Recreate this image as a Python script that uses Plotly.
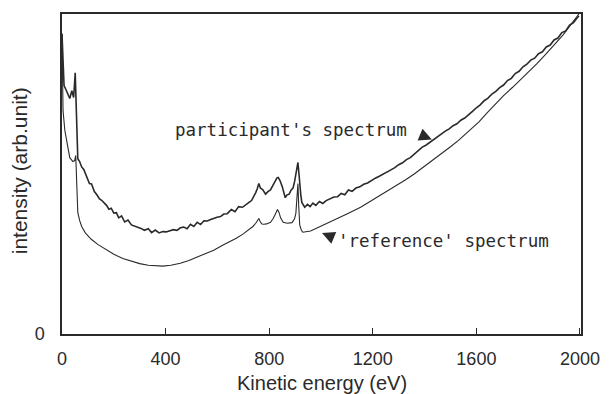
import plotly.graph_objects as go

# ---- data ----
part_energy = [0, 4, 8, 15, 23, 30, 38, 45, 51, 55, 59, 61, 68, 76, 84, 91, 99, 106, 114, 125,
               134, 144, 153, 163, 172, 181, 190, 200, 210, 219, 230, 242, 255, 268, 280, 292,
               305, 318, 333, 346, 360, 375, 389, 402, 416, 430, 444, 457, 470, 483, 496, 509,
               522, 535, 548, 561, 574, 586, 599, 612, 625, 638, 654, 668, 682, 697, 711, 722,
               732, 741, 748, 754, 760, 766, 775, 786, 795, 805, 815, 824, 830, 835, 842, 850,
               856, 862, 868, 877, 885, 892, 898, 903, 907, 911, 915, 918, 922, 926, 937, 948,
               958, 969, 980, 994, 1007, 1020, 1035, 1050, 1064, 1078, 1092, 1106, 1120, 1135,
               1150, 1165, 1180, 1195, 1210, 1225, 1240, 1255, 1270, 1285, 1300, 1315, 1330,
               1345, 1360, 1375, 1391, 1405, 1420, 1435, 1450, 1465, 1480, 1495, 1510, 1525,
               1540, 1555, 1570, 1585, 1600, 1615, 1630, 1645, 1660, 1675, 1690, 1705, 1720,
               1735, 1750, 1765, 1780, 1795, 1810, 1825, 1840, 1855, 1870, 1885, 1900, 1915,
               1930, 1945, 1960, 1975, 1988, 1996]
part_intensity = [93.8, 85.4, 77.6, 76.4, 75.0, 73.6, 76.0, 73.9, 81.6, 72.9, 60.4, 54.8, 53.9,
                  52.2, 51.4, 50.1, 48.8, 47.0, 46.9, 44.5, 43.6, 42.3, 41.8, 40.9, 40.2, 39.0,
                  39.3, 37.8, 37.9, 36.3, 36.9, 35.0, 35.6, 34.1, 33.8, 33.5, 33.0, 32.4, 32.9,
                  31.7, 32.5, 31.6, 32.0, 31.9, 32.2, 32.6, 32.4, 33.2, 33.4, 32.9, 34.3, 33.6,
                  34.9, 34.2, 35.4, 35.3, 35.8, 36.2, 36.5, 36.7, 37.5, 37.6, 38.9, 38.2, 39.8,
                  39.6, 40.6, 41.1, 41.7, 43.0, 44.2, 45.4, 47.0, 45.6, 45.1, 43.7, 44.5, 45.0,
                  46.7, 47.8, 48.8, 48.9, 47.9, 46.2, 44.6, 42.6, 43.4, 43.7, 45.0, 45.6, 47.6,
                  50.5, 52.5, 53.6, 50.0, 46.4, 43.5, 41.1, 39.6, 40.5, 39.8, 40.9, 40.2, 41.4,
                  40.8, 41.7, 42.2, 42.8, 42.9, 43.9, 43.5, 45.0, 44.6, 45.6, 46.0, 46.8, 47.2,
                  48.0, 48.7, 49.3, 49.9, 50.6, 51.3, 52.0, 52.9, 53.5, 54.5, 55.1, 56.2, 57.1,
                  58.4, 59.0, 59.9, 60.8, 61.7, 62.4, 63.4, 64.1, 65.1, 65.7, 66.8, 67.5, 68.7,
                  69.6, 70.7, 71.6, 72.9, 73.7, 75.0, 75.8, 77.0, 77.8, 79.2, 79.9, 81.4, 82.1,
                  83.5, 84.3, 85.6, 86.2, 87.6, 88.2, 89.7, 90.3, 91.9, 92.5, 94.2, 94.7, 96.5,
                  97.3, 98.7, 99.4, 100.0]

ref_energy = [0, 4, 11, 19, 30, 42, 49, 53, 57, 61, 68, 76, 90, 113, 138, 163, 200, 235, 268,
              300, 333, 360, 389, 420, 457, 490, 522, 555, 586, 620, 650, 673, 700, 720, 737,
              748, 754, 760, 766, 772, 779, 790, 805, 815, 824, 832, 838, 844, 854, 870, 888,
              898, 903, 907, 911, 914, 918, 924, 930, 960, 987, 1020, 1050, 1100, 1153, 1202,
              1250, 1278, 1327, 1360, 1402, 1455, 1500, 1531, 1580, 1610, 1644, 1675, 1705,
              1740, 1769, 1800, 1833, 1870, 1909, 1935, 1958, 1980, 1996]
ref_intensity = [93.8, 69.8, 63.6, 60.4, 55.1, 53.9, 54.2, 55.8, 44.9, 38.0, 35.5, 33.6, 31.6,
                 29.6, 28.0, 26.8, 24.9, 23.6, 22.7, 22.0, 21.5, 21.3, 21.2, 21.5, 22.1, 23.0,
                 24.0, 25.1, 26.2, 27.7, 28.9, 29.9, 31.3, 32.4, 33.6, 34.6, 35.5, 36.1, 35.0,
                 34.4, 34.3, 34.4, 34.9, 36.0, 37.5, 38.9, 38.0, 36.3, 34.9, 34.6, 34.8, 36.0,
                 37.7, 43.0, 47.0, 40.0, 34.0, 32.5, 31.8, 32.2, 33.2, 34.6, 35.6, 37.5, 39.6,
                 42.0, 44.3, 45.8, 48.2, 50.0, 52.5, 55.6, 58.5, 60.5, 64.0, 66.3, 69.3, 71.9,
                 74.5, 77.1, 79.3, 81.8, 84.4, 87.6, 91.0, 93.5, 96.0, 98.4, 100.0]

x_ticks = [0, 400, 800, 1200, 1600, 2000]
x_tick_text = ["0", "400", "800", "1200", "1600", "2000"]
y_ticks = [0]
y_tick_text = ["0"]

x_title = "Kinetic energy (eV)"
y_title = "intensity (arb.unit)"
label_participant = "participant's spectrum"
label_reference = "'reference' spectrum"

ink = "#2a2a2a"
sans = "Liberation Sans, Arial, sans-serif"
mono = "DejaVu Sans Mono, monospace"

fig = go.Figure()
fig.add_trace(go.Scatter(x=ref_energy, y=ref_intensity, mode="lines",
                         line=dict(color=ink, width=1.1), showlegend=False))
fig.add_trace(go.Scatter(x=part_energy, y=part_intensity, mode="lines",
                         line=dict(color=ink, width=1.6), showlegend=False))

fig.update_layout(
    width=612, height=394,
    margin=dict(l=62, r=20, t=13, b=60),
    paper_bgcolor="white", plot_bgcolor="white",
    font=dict(family=sans, color=ink, size=18),
)
fig.update_xaxes(range=[0, 2004], tickvals=x_ticks, ticktext=x_tick_text,
                 ticks="inside", ticklen=6, tickwidth=1.2, tickcolor=ink,
                 showline=True, linecolor=ink, linewidth=1.5, mirror=True,
                 showgrid=False, zeroline=False, ticklabelstandoff=8,
                 tickfont=dict(size=18, family=sans, color=ink))
fig.update_yaxes(range=[0, 100], tickvals=y_ticks, ticktext=y_tick_text,
                 ticks="", showline=True, linecolor=ink, linewidth=1.5, mirror=True,
                 showgrid=False, zeroline=False, ticklabelstandoff=12,
                 tickfont=dict(size=18, family=sans, color=ink))

annotations = [
    dict(text=x_title, xref="paper", yref="paper", x=0.5, y=-0.153, xanchor="center",
         yanchor="middle", showarrow=False, font=dict(size=20, family=sans, color=ink)),
    dict(text=y_title, xref="paper", yref="paper", x=-0.082, y=0.51, xanchor="center",
         yanchor="middle", textangle=-90, showarrow=False,
         font=dict(size=21, family=sans, color=ink)),
    dict(text=label_participant, xref="x", yref="y", x=427, y=63.6, xanchor="left",
         yanchor="middle", showarrow=False, font=dict(size=17.5, family=mono, color=ink)),
    dict(text=label_reference, xref="x", yref="y", x=1058, y=29.0, xanchor="left",
         yanchor="middle", showarrow=False, font=dict(size=17.5, family=mono, color=ink)),
    dict(text="", xref="x", yref="y", x=1428, y=60.8, ax=-12, ay=-5, showarrow=True,
         arrowhead=2, arrowsize=1.7, arrowwidth=1.5, arrowcolor=ink,
         font=dict(size=1), borderpad=0),
    dict(text="", xref="x", yref="y", x=1004, y=31.6, ax=12, ay=5, showarrow=True,
         arrowhead=2, arrowsize=1.7, arrowwidth=1.5, arrowcolor=ink,
         font=dict(size=1), borderpad=0),
]
fig.update_layout(annotations=annotations)

fig.write_html("out.html")
